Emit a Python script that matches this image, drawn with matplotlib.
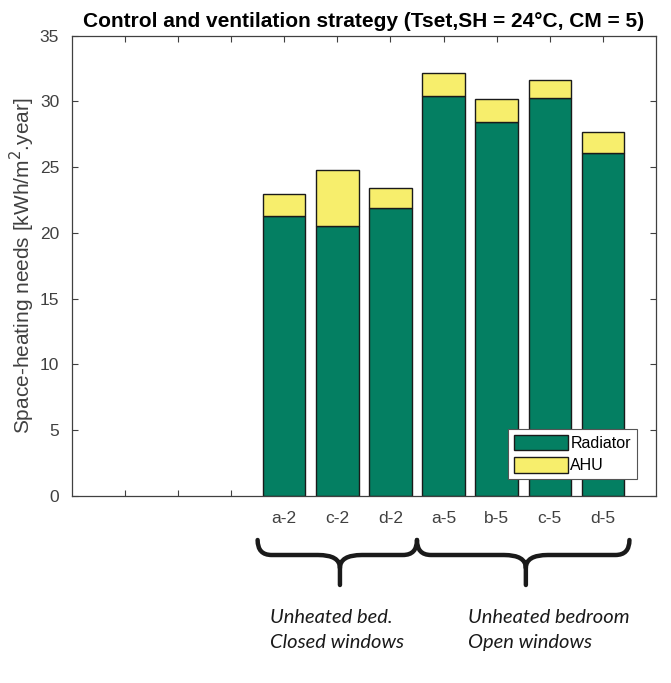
import matplotlib
matplotlib.use("Agg")
import matplotlib.pyplot as plt
import numpy as np
from matplotlib.path import Path
from matplotlib.patches import PathPatch
import matplotlib.transforms as mtransforms

# ---- data ----
categories = ["a-2", "c-2", "d-2", "a-5", "b-5", "c-5", "d-5"]
positions = [5, 6, 7, 8, 9, 10, 11]
radiator = [21.3, 20.5, 21.9, 30.4, 28.45, 30.3, 26.1]
ahu = [1.65, 4.3, 1.5, 1.75, 1.75, 1.35, 1.55]
series_names = ["Radiator", "AHU"]
group_members = [[5, 6, 7], [8, 9, 10, 11]]
group_labels = ["Unheated bed.\nClosed windows", "Unheated bedroom\nOpen windows"]
title = "Control and ventilation strategy (Tset,SH = 24°C, CM = 5)"
ylabel = "Space-heating needs [kWh/m$^{2}$.year]"

green = "#047f62"
yellow = "#f7ee6c"
axcol = "#404040"

plt.rcParams["font.family"] = ["Liberation Sans", "DejaVu Sans"]

fig = plt.figure(figsize=(6.71, 6.83), dpi=100)
L, R, T, B = 71.7, 656.0, 35.7, 496.0
W, H = 671.0, 683.0
ax = fig.add_axes([L / W, 1 - B / H, (R - L) / W, (B - T) / H])

b1 = ax.bar(positions, radiator, width=0.8, color=green, edgecolor="#1a1a1a",
            linewidth=1.0, label=series_names[0], zorder=2)
b2 = ax.bar(positions, ahu, width=0.8, bottom=radiator, color=yellow,
            edgecolor="#1a1a1a", linewidth=1.0, label=series_names[1], zorder=2)

ax.set_xlim(1, 12)
ax.set_ylim(0, 35)
ax.set_yticks(np.arange(0, 36, 5))
xt = list(range(2, 12))
ax.set_xticks(xt)
lab = {p: c for p, c in zip(positions, categories)}
ax.set_xticklabels([lab.get(p, "") for p in xt])

for s in ax.spines.values():
    s.set_color(axcol)
    s.set_linewidth(0.9)
ax.tick_params(direction="in", length=4, width=0.8, color=axcol,
               top=True, right=True, labelsize=12.5, labelcolor="#404040")
ax.tick_params(axis="x", pad=11)
ax.tick_params(axis="y", pad=9)

ax.set_title(title, fontsize=15, fontweight="bold", pad=6)
ax.set_ylabel(ylabel, fontsize=15, color="#404040", labelpad=2)

leg = ax.legend(loc="lower left", bbox_to_anchor=(0.747, 0.037), borderaxespad=0,
                fontsize=11.5, fancybox=False, edgecolor="#555555",
                handlelength=3.4, handleheight=1.1, handletextpad=0.15,
                borderpad=0.35, labelspacing=0.4, framealpha=1)
leg.get_frame().set_linewidth(0.8)
for h in leg.legend_handles:
    h.set_edgecolor("#1a1a1a")

# ---- braces under the groups ----
trans = mtransforms.blended_transform_factory(ax.transData, ax.transAxes)
pxu = 1.0 / 53.13      # data units per pixel (x)
pyu = 1.0 / 460.3      # axes fraction per pixel (y)
y_top = (B - 540) * pyu
y_h = (B - 555) * pyu
y_s = (B - 568) * pyu
y_b = (B - 585) * pyu


def brace(x0, x1, xm):
    r = 14 * pxu
    c = 22 * pxu
    verts = [
        (x0, y_top),
        (x0, y_h), (x0 + r, y_h),
        (xm - c, y_h),
        (xm, y_h), (xm, y_s),
        (xm, y_b),
        (xm, y_s),
        (xm, y_h), (xm + c, y_h),
        (x1 - r, y_h),
        (x1, y_h), (x1, y_top),
    ]
    codes = [Path.MOVETO,
             Path.CURVE3, Path.CURVE3,
             Path.LINETO,
             Path.CURVE3, Path.CURVE3,
             Path.LINETO,
             Path.MOVETO,
             Path.CURVE3, Path.CURVE3,
             Path.LINETO,
             Path.CURVE3, Path.CURVE3]
    p = PathPatch(Path(verts, codes), transform=trans, fill=False,
                  edgecolor="#1a1a1a", linewidth=3.2, clip_on=False,
                  capstyle="round", joinstyle="round")
    ax.add_patch(p)


for members in group_members:
    x0 = min(members) - 0.5
    x1 = max(members) + 0.5
    xm = np.mean(members) + 0.05
    brace(x0, x1, xm)

text_offsets = [0.24, 0.96]
for members, txt, off in zip(group_members, group_labels, text_offsets):
    x0 = min(members) - 0.5 + off
    ax.text(x0, (B - 609) * pyu, txt, transform=trans, ha="left", va="top",
            fontsize=14.5, style="italic", family=["Lato", "DejaVu Sans"],
            color="#1a1a1a", linespacing=1.6, clip_on=False)

fig.savefig("out.png", dpi=100)
